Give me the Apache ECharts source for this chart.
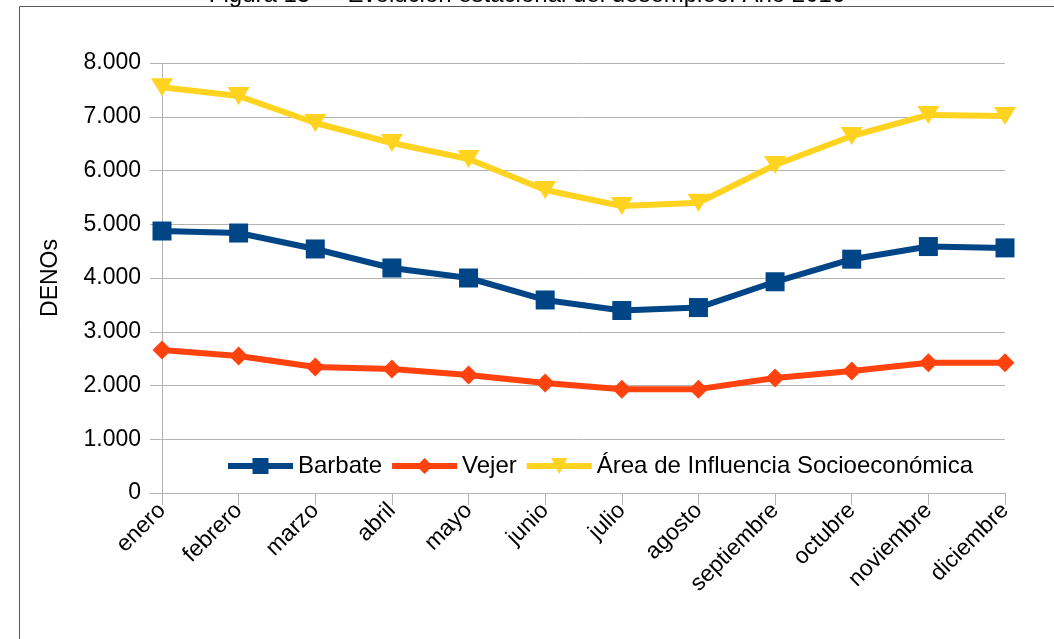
<!DOCTYPE html>
<html>
<head>
<meta charset="utf-8">
<script src="https://cdn.jsdelivr.net/npm/echarts@6/dist/echarts.min.js"></script>
<style>html,body{margin:0;padding:0;background:#fff}#c{width:1054px;height:639px}</style>
</head>
<body>
<div id="c"></div>
<script>
const titleText = 'Figura 13 — Evolución estacional del desempleo. Año 2016';
const yAxisName = 'DENOs';
const categories = ['enero','febrero','marzo','abril','mayo','junio','julio','agosto','septiembre','octubre','noviembre','diciembre'];
const seriesNames = ['Barbate','Vejer','Área de Influencia Socioeconómica'];
const barbate = [4874, 4837, 4540, 4186, 4000, 3591, 3395, 3450, 3930, 4350, 4585, 4560];
const vejer = [2660, 2549, 2344, 2307, 2195, 2047, 1932, 1932, 2140, 2270, 2424, 2424];
const area = [7550, 7386, 6884, 6512, 6214, 5637, 5340, 5400, 6102, 6642, 7033, 7014];
const yTicks = {min: 0, max: 8000, interval: 1000};

const FONT = '"Liberation Sans", Arial, sans-serif';
const chart = echarts.init(document.getElementById('c'), null, {renderer: 'canvas'});
const fmt = v => String(v).replace(/\B(?=(\d{3})+(?!\d))/g, '.');
chart.setOption({
  animation: false,
  backgroundColor: '#fff',
  textStyle: {fontFamily: FONT},
  title: {
    text: titleText, left: 'center', top: -22,
    textStyle: {fontFamily: FONT, fontSize: 24, fontWeight: 'normal', color: '#000'}
  },
  graphic: [{
    type: 'rect', shape: {x: 19.5, y: 6.5, width: 1100, height: 700},
    style: {fill: null, stroke: '#5a5a5a', lineWidth: 1}, silent: true, z: -1
  }],
  grid: {left: 162, right: 49, top: 63, bottom: 146, containLabel: false},
  legend: {
    data: seriesNames, left: 225, top: 454, padding: 0,
    itemWidth: 65, itemHeight: 20, itemGap: 7,
    lineStyle: {width: 6},
    textStyle: {fontFamily: FONT, fontSize: 24, color: '#000'}
  },
  xAxis: {
    type: 'category', data: categories, boundaryGap: false,
    axisLine: {lineStyle: {color: '#b3b3b3', width: 1}},
    axisTick: {show: true, length: 12, alignWithLabel: true, lineStyle: {color: '#b3b3b3'}},
    axisLabel: {rotate: 45, margin: 14, fontFamily: FONT, fontSize: 23, color: '#000', interval: 0},
    splitLine: {show: false}
  },
  yAxis: {
    type: 'value', min: yTicks.min, max: yTicks.max, interval: yTicks.interval,
    name: yAxisName, nameLocation: 'middle', nameGap: 100,
    nameTextStyle: {fontFamily: FONT, fontSize: 23, color: '#000'},
    axisLine: {show: true, lineStyle: {color: '#b3b3b3', width: 1}},
    axisTick: {show: true, length: 12, lineStyle: {color: '#b3b3b3'}},
    axisLabel: {margin: 21, fontFamily: FONT, fontSize: 23, color: '#000', formatter: fmt},
    splitLine: {show: true, lineStyle: {color: '#b3b3b3', width: 1}}
  },
  series: [
    {name: seriesNames[0], type: 'line', data: barbate, color: '#004586',
     lineStyle: {width: 6}, symbol: 'rect', symbolSize: 19, itemStyle: {color: '#004586'}, z: 3},
    {name: seriesNames[1], type: 'line', data: vejer, color: '#ff420e',
     lineStyle: {width: 6}, symbol: 'diamond', symbolSize: [19, 19], itemStyle: {color: '#ff420e'}, z: 3},
    {name: seriesNames[2], type: 'line', data: area, color: '#ffd320',
     lineStyle: {width: 6}, symbol: 'triangle', symbolRotate: 180, symbolSize: [22, 18], itemStyle: {color: '#ffd320'}, z: 3}
  ]
});
</script>
</body>
</html>
